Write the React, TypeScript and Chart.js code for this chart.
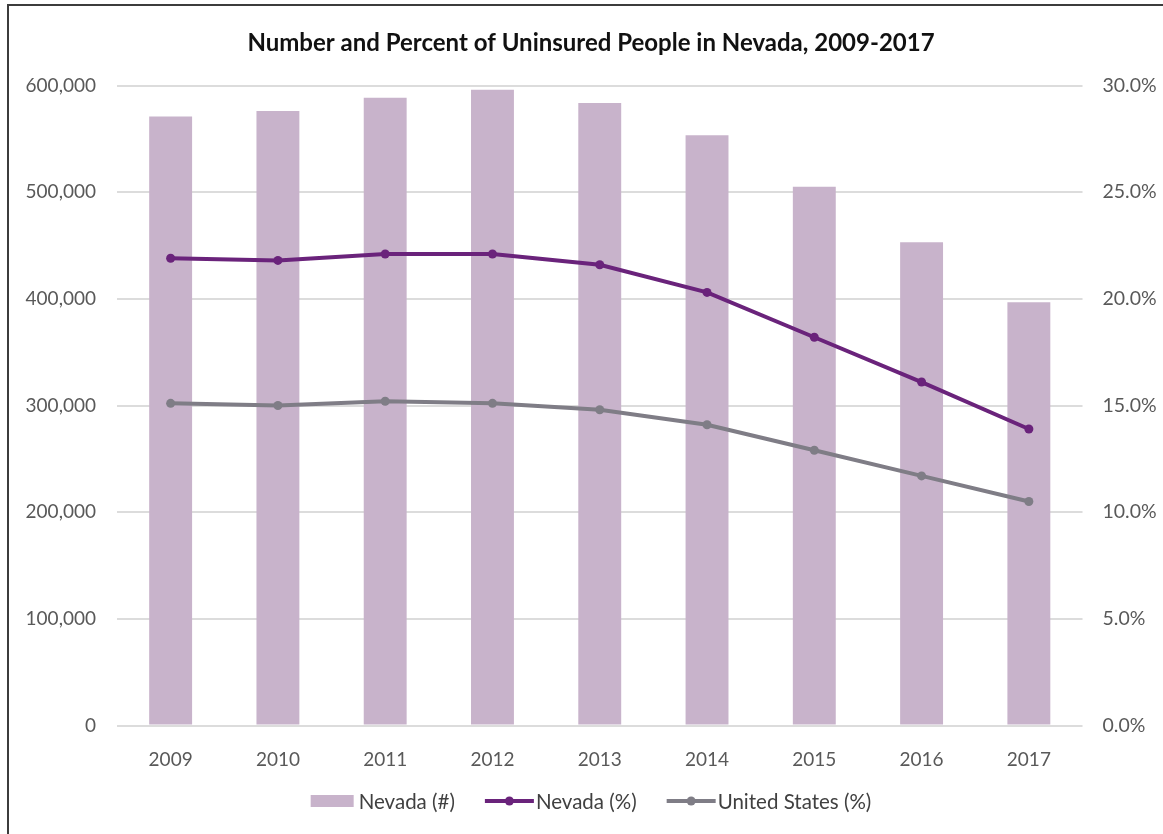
import React, { useEffect, useRef } from "react";
import { Chart, registerables } from "chart.js";

Chart.register(...registerables);

// Years on the category axis
const years = ["2009", "2010", "2011", "2012", "2013", "2014", "2015", "2016", "2017"];

// Number of uninsured Nevadans
const nevadaCount = [571000, 576000, 588500, 596000, 583500, 553300, 505000, 453000, 396900];

// Uninsured rate, percent
const nevadaPct = [21.9, 21.8, 22.1, 22.1, 21.6, 20.3, 18.2, 16.1, 13.9];
const usPct = [15.1, 15.0, 15.2, 15.1, 14.8, 14.1, 12.9, 11.7, 10.5];

const CHART_TITLE = "Number and Percent of Uninsured People in Nevada, 2009-2017";

const BAR_COLOR = "#c8b3cb";
const NV_COLOR = "#6a237b";
const US_COLOR = "#7f7d86";
const TICK_COLOR = "#595959";
const GRID_COLOR = "#dcdcdc";
const FONT = "Lato, 'DejaVu Sans', sans-serif";

const W = 1154;
const H = 828;
const PAD_LEFT = 10;

// Draws the legend below the axis: a filled swatch for bars, line + marker for lines.
const bottomLegend = {
  id: "bottomLegend",
  afterDraw(chart: any) {
    const ctx = chart.ctx as CanvasRenderingContext2D;
    const items = chart.data.datasets.map((ds: any) => ({
      label: ds.label as string,
      kind: ds.type === "bar" ? "box" : "line",
      color: (ds.type === "bar" ? ds.backgroundColor : ds.borderColor) as string,
    }));
    ctx.save();
    ctx.font = `20.5px ${FONT}`;
    ctx.textBaseline = "middle";
    const boxW = 43;
    const lineW = 49;
    const gapItem = 30;
    const widths = items.map((it: any) => {
      const sw = it.kind === "box" ? boxW + 5 : lineW + 2;
      return sw + ctx.measureText(it.label).width;
    });
    const total = widths.reduce((a: number, b: number) => a + b, 0) + gapItem * (items.length - 1);
    let x = (PAD_LEFT + chart.width) / 2 - total / 2;
    const y = 795;
    items.forEach((it: any, i: number) => {
      if (it.kind === "box") {
        ctx.fillStyle = it.color;
        ctx.fillRect(x, y - 6, boxW, 12);
        ctx.fillStyle = "#404040";
        ctx.fillText(it.label, x + boxW + 5, y + 1);
      } else {
        ctx.strokeStyle = it.color;
        ctx.lineWidth = 4;
        ctx.beginPath();
        ctx.moveTo(x, y);
        ctx.lineTo(x + lineW, y);
        ctx.stroke();
        ctx.fillStyle = it.color;
        ctx.beginPath();
        ctx.arc(x + lineW / 2, y, 4.5, 0, Math.PI * 2);
        ctx.fill();
        ctx.fillStyle = "#404040";
        ctx.fillText(it.label, x + lineW + 2, y + 1);
      }
      x += widths[i] + gapItem;
    });
    ctx.restore();
  },
};

export default function App() {
  const canvasRef = useRef<HTMLCanvasElement | null>(null);

  useEffect(() => {
    document.body.style.overflow = "hidden";
    const canvas = canvasRef.current;
    if (!canvas) return;
    const chart = new Chart(canvas, {
      type: "bar",
      data: {
        labels: years,
        datasets: [
          {
            type: "bar",
            label: "Nevada (#)",
            data: nevadaCount,
            backgroundColor: BAR_COLOR,
            yAxisID: "y",
            categoryPercentage: 1,
            barPercentage: 0.4,
            order: 3,
          },
          {
            type: "line",
            label: "Nevada (%)",
            data: nevadaPct,
            borderColor: NV_COLOR,
            backgroundColor: NV_COLOR,
            borderWidth: 4,
            pointRadius: 4.5,
            pointBackgroundColor: NV_COLOR,
            pointBorderWidth: 0,
            tension: 0,
            yAxisID: "y1",
            order: 1,
          },
          {
            type: "line",
            label: "United States (%)",
            data: usPct,
            borderColor: US_COLOR,
            backgroundColor: US_COLOR,
            borderWidth: 4,
            pointRadius: 4.5,
            pointBackgroundColor: US_COLOR,
            pointBorderWidth: 0,
            tension: 0,
            yAxisID: "y1",
            order: 2,
          },
        ] as any,
      },
      options: {
        animation: false,
        responsive: false,
        layout: { padding: { left: PAD_LEFT, right: 0, top: 0, bottom: 0 } },
        plugins: {
          legend: { display: false },
          tooltip: { enabled: false },
          title: {
            display: true,
            text: CHART_TITLE,
            color: "#111111",
            font: { family: FONT, size: 24, weight: "bold" },
            padding: { top: 22.6, bottom: 28.1 },
          },
        },
        scales: {
          x: {
            offset: true,
            grid: { display: false },
            border: { display: false },
            ticks: {
              color: TICK_COLOR,
              font: { family: FONT, size: 19 },
              padding: 15,
              maxRotation: 0,
            },
            afterFit: (scale: any) => {
              scale.height = 108.5;
            },
          },
          y: {
            position: "left",
            min: 0,
            max: 600000,
            grid: { color: GRID_COLOR, lineWidth: 2, drawTicks: false },
            border: { display: false },
            ticks: {
              stepSize: 100000,
              color: TICK_COLOR,
              font: { family: FONT, size: 19 },
              padding: 21,
              callback: (v: any) => Number(v).toLocaleString("en-US"),
            },
            afterFit: (scale: any) => {
              scale.width = 98;
            },
          },
          y1: {
            position: "right",
            min: 0,
            max: 30,
            grid: { display: false, drawTicks: false },
            border: { display: false },
            ticks: {
              stepSize: 5,
              color: TICK_COLOR,
              font: { family: FONT, size: 19.5 },
              padding: 20,
              callback: (v: any) => Number(v).toFixed(1) + "%",
            },
            afterFit: (scale: any) => {
              scale.width = 80.5;
            },
          },
        },
      },
      plugins: [bottomLegend],
    });
    return () => chart.destroy();
  }, []);

  return (
    <div
      style={{
        position: "absolute",
        left: 7,
        top: 4,
        width: W,
        height: H,
        borderTop: "2px solid #3c3c3c",
        borderLeft: "2px solid #3c3c3c",
        background: "#ffffff",
      }}
    >
      <canvas ref={canvasRef} width={W} height={H} style={{ display: "block", width: W, height: H }} />
    </div>
  );
}
